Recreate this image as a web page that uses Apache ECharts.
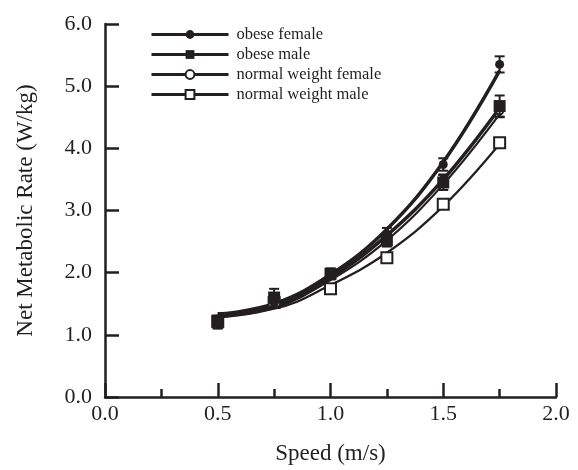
<!DOCTYPE html>
<html>
<head>
<meta charset="utf-8">
<script src="https://cdn.jsdelivr.net/npm/echarts@6/dist/echarts.min.js"></script>
<style>
  html, body { margin: 0; padding: 0; background: #fff; }
  #chart { width: 578px; height: 470px; }
</style>
</head>
<body>
<div id="chart"></div>
<script>
// speeds (m/s)
const speeds = [0.5, 0.75, 1.0, 1.25, 1.5, 1.75]

// measured means (W/kg)
const obeseFemale = [1.25, 1.52, 2.0, 2.62, 3.74, 5.35]
const obeseMale = [1.2, 1.6, 1.98, 2.52, 3.45, 4.68]
const normalFemale = [1.25, 1.5, 1.95, 2.55, 3.5, 4.6]
const normalMale = [1.22, 1.52, 1.74, 2.24, 3.1, 4.09]

// error bar half-lengths
const obeseFemaleErr = [0.06, 0.08, 0.07, 0.1, 0.1, 0.13]
const obeseMaleErr = [0.1, 0.14, 0.08, 0.1, 0.12, 0.17]
const normalFemaleErr = [0.05, 0.06, 0.06, 0.08, 0.08, 0.1]
const normalMaleErr = [0.04, 0.05, 0.05, 0.06, 0.06, 0.07]

// fitted curves read at the same speeds
const fitObeseFemale = [1.33, 1.5, 1.97, 2.7, 3.78, 5.25]
const fitObeseMale = [1.3, 1.45, 1.92, 2.6, 3.5, 4.65]
const fitNormalFemale = [1.28, 1.43, 1.88, 2.52, 3.42, 4.55]
const fitNormalMale = [1.35, 1.42, 1.8, 2.32, 3.07, 4.07]

const ink = '#231f20'
const font = '"Liberation Serif", "DejaVu Serif", serif'

const chart = echarts.init(document.getElementById('chart'))

const pairs = (ys) => speeds.map((x, i) => [x, ys[i]])
const errs = (ys, es) => speeds.map((x, i) => [x, ys[i] - es[i], ys[i] + es[i]])

const groups = [
  { name: 'obese female', mean: obeseFemale, err: obeseFemaleErr, fit: fitObeseFemale, symbol: 'circle', size: 9, width: 3.5, z: 6 },
  { name: 'obese male', mean: obeseMale, err: obeseMaleErr, fit: fitObeseMale, symbol: 'rect', size: 12, width: 3.5, z: 6 },
  { name: 'normal weight female', mean: normalFemale, err: normalFemaleErr, fit: fitNormalFemale, symbol: 'emptyCircle', size: 7, width: 2.2, z: 4 },
  { name: 'normal weight male', mean: normalMale, err: normalMaleErr, fit: fitNormalMale, symbol: 'emptyRect', size: 11, width: 2.2, z: 4 }
]

const errorBarItem = (params, api) => {
  const x = api.value(0)
  const lo = api.coord([x, api.value(1)])
  const hi = api.coord([x, api.value(2)])
  const cap = 5
  const style = { stroke: ink, lineWidth: 2 }
  return {
    type: 'group',
    children: [
      { type: 'line', shape: { x1: lo[0], y1: lo[1], x2: hi[0], y2: hi[1] }, style },
      { type: 'line', shape: { x1: lo[0] - cap, y1: lo[1], x2: lo[0] + cap, y2: lo[1] }, style },
      { type: 'line', shape: { x1: hi[0] - cap, y1: hi[1], x2: hi[0] + cap, y2: hi[1] }, style }
    ]
  }
}

const series = []
groups.forEach(g => {
  const empty = g.symbol.startsWith('empty')
  series.push({
    name: g.name,
    type: 'line',
    data: pairs(g.fit),
    smooth: 0.4,
    symbol: g.symbol,
    showSymbol: false,
    lineStyle: { color: ink, width: g.width },
    itemStyle: { color: ink },
    z: 2
  })
  series.push({
    type: 'custom',
    renderItem: errorBarItem,
    data: errs(g.mean, g.err),
    z: g.z - 1
  })
  series.push({
    type: 'scatter',
    data: pairs(g.mean),
    symbol: g.symbol,
    symbolSize: g.size,
    itemStyle: { color: ink, borderWidth: empty ? 2.2 : 0, opacity: 1 },
    z: g.z
  })
})

chart.setOption({
  animation: false,
  backgroundColor: '#fff',
  textStyle: { fontFamily: font, color: ink },
  grid: { left: 105, right: 22, top: 24, bottom: 66 },
  legend: {
    orient: 'vertical',
    left: 145,
    top: 21,
    itemWidth: 77,
    itemHeight: 11,
    itemGap: 3,
    lineStyle: { width: 3 },
    data: groups.map(g => g.name),
    textStyle: { fontFamily: font, fontSize: 16.5, color: ink, padding: [0, 0, 0, 3] }
  },
  xAxis: {
    type: 'value',
    min: 0,
    max: 2,
    interval: 0.5,
    name: 'Speed (m/s)',
    nameLocation: 'middle',
    nameGap: 45,
    nameTextStyle: { fontFamily: font, fontSize: 23, color: ink },
    axisLine: { lineStyle: { color: ink, width: 2.5 } },
    axisTick: { inside: true, length: 14, lineStyle: { color: ink, width: 2.5 } },
    minorTick: { show: true, splitNumber: 2, length: 8, lineStyle: { color: ink, width: 2.5 } },
    axisLabel: { fontFamily: font, fontSize: 22, color: ink, margin: 6, formatter: v => v.toFixed(1) },
    splitLine: { show: false }
  },
  yAxis: {
    type: 'value',
    min: 0,
    max: 6,
    interval: 1,
    name: 'Net Metabolic Rate (W/kg)',
    nameLocation: 'middle',
    nameGap: 68,
    nameTextStyle: { fontFamily: font, fontSize: 23, color: ink },
    axisLine: { show: true, lineStyle: { color: ink, width: 2.5 } },
    axisTick: { show: true, inside: true, length: 14, lineStyle: { color: ink, width: 2.5 } },
    axisLabel: { fontFamily: font, fontSize: 22, color: ink, margin: 13, formatter: v => v.toFixed(1) },
    splitLine: { show: false }
  },
  series
})
</script>
</body>
</html>
